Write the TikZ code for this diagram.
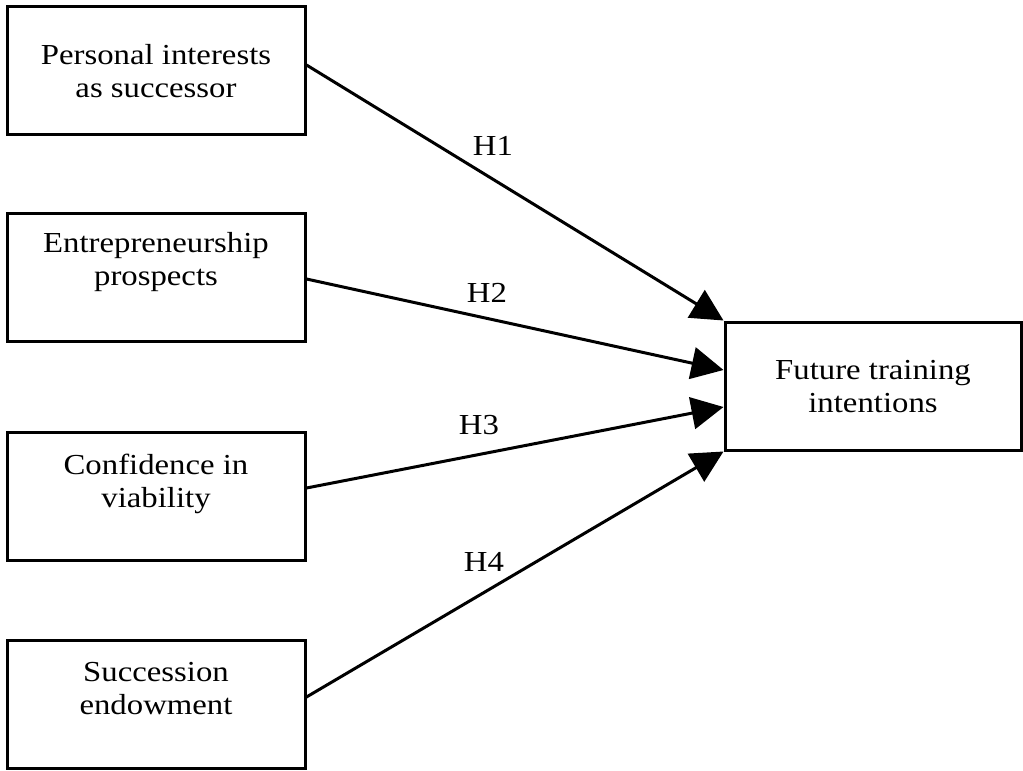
\documentclass[tikz,border=0pt]{standalone}
\usepackage{fontspec}
\setmainfont{Liberation Serif}[FakeStretch=1.13]
\usetikzlibrary{arrows.meta,calc}
\begin{document}
\begin{tikzpicture}[x=1pt,y=-1pt,
  box/.style={draw,line width=3pt,rectangle,minimum width=298pt,minimum height=128pt,inner sep=0pt},
  fbox/.style={draw,line width=3pt,rectangle,minimum width=296pt,minimum height=128pt,inner sep=0pt},
  txt/.style={align=center,font=\fontsize{29}{33}\selectfont,inner sep=0pt},
  hyp/.style={font=\fontsize{29}{33}\selectfont,inner sep=0pt},
  conn/.style={line width=3pt,-{Triangle[length=32pt,width=32pt]}}]
\useasboundingbox (0,0) rectangle (1023,771);
\node[box] (b1) at (156,70.5) {};
\node[box] (b2) at (156,277.5) {};
\node[box] (b3) at (156,496.5) {};
\node[box] (b4) at (156,704.5) {};
\node[fbox] (f) at (873,386) {};
\node[txt] (t1) at (156,71) {Personal interests\\as successor};
\node[txt] (t2) at (156,262) {Entrepreneurship\\prospects};
\node[txt] (t3) at (156,484) {Confidence in\\viability};
\node[txt] (t4) at (156,689) {Succession\\endowment};
\node[txt] (t5) at (873,387) {Future training\\intentions};
\node[hyp] (l1) at (493,146) {H1};
\node[hyp] (l2) at (487,293) {H2};
\node[hyp] (l3) at (479,425) {H3};
\node[hyp] (l4) at (484,562) {H4};
\draw[conn] ($(b1.east)+(0,-5.5)$) -- (f.north west);
\draw[conn] ($(b2.east)+(0,1.5)$) -- ($(f.west)+(0,-16)$);
\draw[conn] ($(b3.east)+(0,-8.5)$) -- ($(f.west)+(0,21)$);
\draw[conn] ($(b4.east)+(0,-7.5)$) -- (f.south west);
\end{tikzpicture}
\end{document}
